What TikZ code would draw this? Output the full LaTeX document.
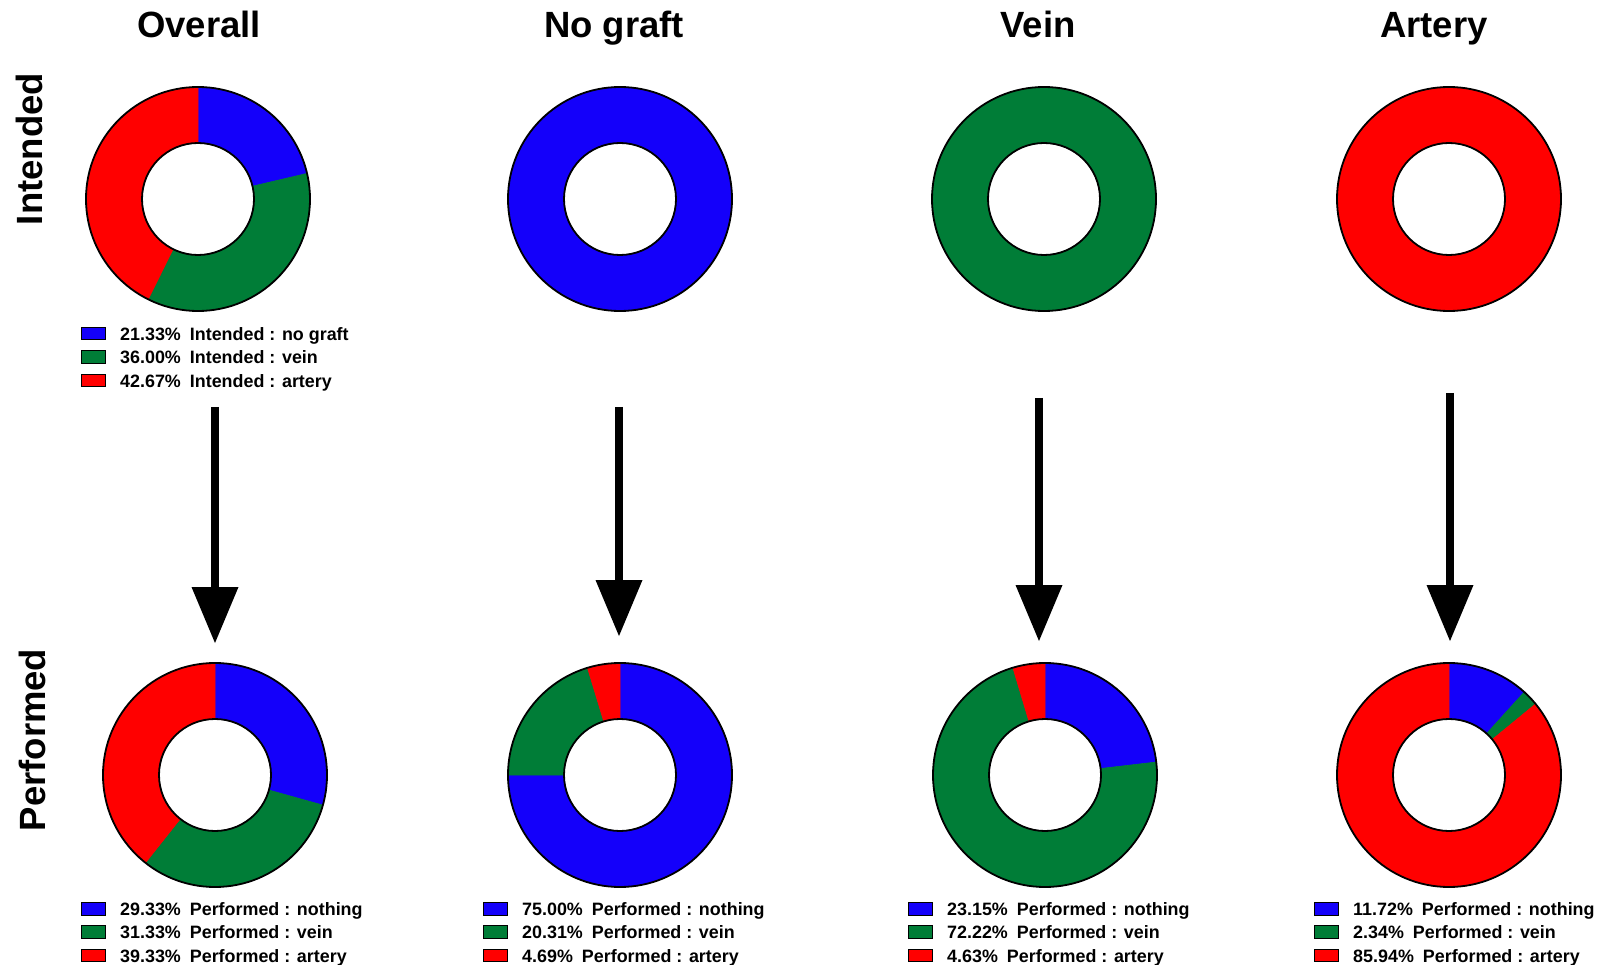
\documentclass[tikz,border=0pt]{standalone}
\usepackage{fontspec}
\setmainfont{Liberation Sans}
\usetikzlibrary{arrows.meta,calc,positioning}
\definecolor{cblue}{RGB}{20,0,250}
\definecolor{cgreen}{RGB}{0,125,55}
\definecolor{cred}{RGB}{255,0,0}
% annular sector: centre, from angle, to angle, colour (skipped when empty)
\newcommand{\sector}[4]{\pgfmathparse{abs(#2-(#3))<0.1}\ifnum\pgfmathresult=1\else
  \filldraw[#4,line width=0.6pt] ($(#1)+(#2:112pt)$) arc[start angle=#2,end angle=#3,radius=112pt] -- ($(#1)+(#3:56pt)$) arc[start angle=#3,end angle=#2,radius=56pt] -- cycle;\fi}
% legend: name, x, baseline y, three texts
\newcommand{\keyrows}[6]{%
  \node[keybox,fill=cblue] (#1a) at (#2,#3) {};
  \node[keybox,fill=cgreen,below=9.8pt of #1a] (#1b) {};
  \node[keybox,fill=cred,below=9.8pt of #1b] (#1c) {};
  \node[keytext] (#1ta) at ([xshift=14pt]#1a.south east) {#4};
  \node[keytext] (#1tb) at ([xshift=14pt]#1b.south east) {#5};
  \node[keytext] (#1tc) at ([xshift=14pt]#1c.south east) {#6};}
\newcommand{\gap}{\hspace{9pt}}

\begin{document}
\begin{tikzpicture}[x=1pt,y=1pt]
\tikzset{title/.style={font=\fontsize{36.5}{40}\selectfont\bfseries,inner sep=0pt,anchor=base},
  rowlab/.style={title,rotate=90},
  ring/.style={draw=black,line width=1.8pt},
  keybox/.style={draw=black,line width=1pt,minimum width=24pt,minimum height=12.5pt,inner sep=0pt,anchor=south west},
  keytext/.style={font=\fontsize{17.9}{20}\selectfont\bfseries,inner sep=0pt,anchor=base west},
  bigarrow/.style={line width=8pt,-{Triangle[width=47pt,length=56pt,line width=0pt]}}}
\fill[white] (0,0) rectangle (1609,-965);
\useasboundingbox (0,0) rectangle (1609,-965);

\node[title] (tover) at (199,-38) {Overall};
\node[title] (tnog) at (614,-38) {No graft};
\node[title] (tvein) at (1038,-38) {Vein};
\node[title] (tart) at (1434,-38) {Artery};
\node[rowlab] (lint) at (42,-149) {Intended};
\node[rowlab] (lperf) at (45,-740) {Performed};

% rings, starting at the top and going clockwise: nothing, vein, artery
\foreach \n/\cx/\cy/\pA/\pB in {inov/198/-199/21.33/36.00, ingr/620/-199/100/0, invn/1044/-199/0/100, inar/1449/-199/0/0,
  peov/215/-775/29.33/31.33, pegr/620/-775/75.00/20.31, pevn/1045/-775/23.15/72.22, pear/1449/-775/11.72/2.34}{
  \coordinate (\n) at (\cx,\cy);
  \pgfmathsetmacro\ea{90-3.6*\pA}
  \pgfmathsetmacro\eb{\ea-3.6*\pB}
  \sector{\n}{90}{\ea}{cblue}
  \sector{\n}{\ea}{\eb}{cgreen}
  \sector{\n}{\eb}{-270}{cred}
  \draw[ring] (\n) circle[radius=112pt] (\n) circle[radius=56pt];
}

\foreach \i/\ax/\ys/\ye in {1/215/-407/-643, 2/619/-407/-636, 3/1039/-398/-641, 4/1450/-393/-641}{
  \coordinate (s\i) at (\ax,\ys);
  \coordinate (e\i) at (\ax,\ye);
  \draw[bigarrow] (s\i) -- (e\i);
}

\keyrows{kio}{81}{-340.5}{21.33\%\gap Intended : no graft}{36.00\%\gap Intended : vein}{42.67\%\gap Intended : artery}
\keyrows{kpo}{81}{-915.5}{29.33\%\gap Performed : nothing}{31.33\%\gap Performed : vein}{39.33\%\gap Performed : artery}
\keyrows{kpg}{483}{-915.5}{75.00\%\gap Performed : nothing}{20.31\%\gap Performed : vein}{4.69\%\gap Performed : artery}
\keyrows{kpv}{908}{-915.5}{23.15\%\gap Performed : nothing}{72.22\%\gap Performed : vein}{4.63\%\gap Performed : artery}
\keyrows{kpa}{1314}{-915.5}{11.72\%\gap Performed : nothing}{2.34\%\gap Performed : vein}{85.94\%\gap Performed : artery}
\end{tikzpicture}
\end{document}
